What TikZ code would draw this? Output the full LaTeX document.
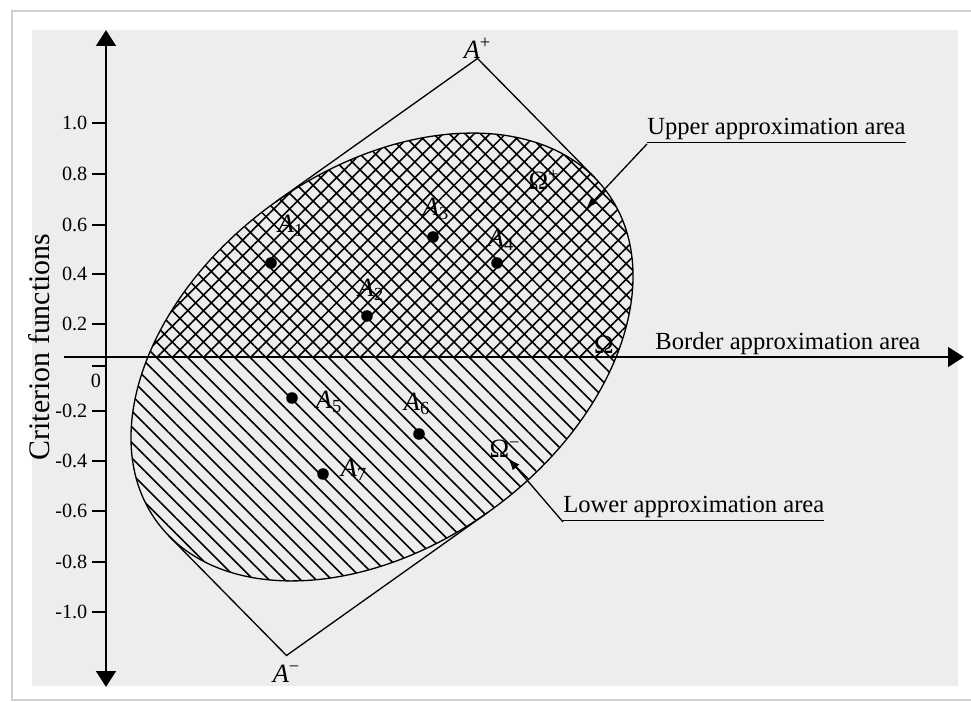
\documentclass[tikz,border=0pt]{standalone}
\usepackage{fontspec}
\setmainfont{Liberation Serif}
\usetikzlibrary{arrows.meta}
\usetikzlibrary{patterns.meta}
\usetikzlibrary{positioning}
\definecolor{panelgray}{HTML}{EDEDED}
\definecolor{framegray}{HTML}{CFCFCF}
\newcommand{\ovaltilt}{36.2}
\tikzstyle{axis}=[
  line width=1.7pt,
  >={Triangle[length=9pt,width=11pt]}
]
\tikzstyle{tickmark}=[line width=1.4pt]
\tikzstyle{rim}=[line width=0.75pt]
\tikzstyle{val}=[
  anchor=east,
  inner sep=2pt,
  font=\fontsize{11.5}{13}\selectfont
]
\tikzstyle{alt}=[
  circle,
  fill,
  inner sep=0pt,
  minimum size=6.6pt
]
\tikzstyle{alttext}=[
  inner sep=0pt,
  font=\fontsize{15}{17}\selectfont
]
\tikzstyle{areatext}=[
  inner sep=0pt,
  font=\fontsize{14}{16}\selectfont
]
\tikzstyle{lead}=[
  -{Latex[length=7pt,width=5pt]},
  line width=0.75pt
]
\tikzstyle{oval}=[rotate around={\ovaltilt:(382,357)}]

\begin{document}
\begin{tikzpicture}[x=0.02cm, y=-0.02cm]
  \useasboundingbox (0,0) rectangle (971,702);
  \draw[framegray, line width=1.2pt] (975,11) -- (12,11) -- (12,700) -- (975,700);
  \fill[panelgray] (32,30) rectangle (958,686);

  % tangent frame
  \coordinate (ap) at (477.5,58.5);
  \coordinate (am) at (286.5,655.5);
  \coordinate (t1) at (275.7,201.9);
  \coordinate (t2) at (595.2,178.1);
  \coordinate (t3) at (488.3,512.1);
  \coordinate (t4) at (168.8,535.9);
  \draw[rim] (t1) -- (ap) -- (t2);
  \draw[rim] (t4) -- (am) -- (t3);
  \node[alttext, above=0pt of ap] (aplus) {\textit{A}\textsuperscript{+}};
  \node[alttext, below=5pt of am] (aminus) {\textit{A}\textsuperscript{−}};

  % areas
  \begin{scope}
    \clip[oval] (382,357) ellipse [x radius=5.58cm, y radius=3.76cm];
    \fill[pattern={Hatch[angle=45, distance=6.3pt, line width=0.9pt]}] (100,357) rectangle (700,100);
    \fill[pattern={Lines[angle=-45, distance=6.3pt, line width=0.9pt]}] (100,357) rectangle (700,620);
  \end{scope}
  \draw[rim, oval] (382,357) ellipse [x radius=5.58cm, y radius=3.76cm];

  % axes
  \coordinate (ytop) at (106,30);
  \coordinate (ybot) at (106,687);
  \coordinate (xleft) at (64,357);
  \coordinate (xright) at (964,357);
  \draw[axis, <->] (ytop) -- (ybot);
  \draw[axis, ->] (xleft) -- (xright);

  \draw[tickmark] (92,123) -- (106,123) node[val, pos=0] (v10)  {1.0};
  \draw[tickmark] (92,174) -- (106,174) node[val, pos=0] (v08)  {0.8};
  \draw[tickmark] (92,225) -- (106,225) node[val, pos=0] (v06)  {0.6};
  \draw[tickmark] (92,274) -- (106,274) node[val, pos=0] (v04)  {0.4};
  \draw[tickmark] (92,324) -- (106,324) node[val, pos=0] (v02)  {0.2};
  \draw[tickmark] (92,366) -- (106,366);
  \draw[tickmark] (92,411) -- (106,411) node[val, pos=0] (vm02) {-0.2};
  \draw[tickmark] (92,461) -- (106,461) node[val, pos=0] (vm04) {-0.4};
  \draw[tickmark] (92,511) -- (106,511) node[val, pos=0] (vm06) {-0.6};
  \draw[tickmark] (92,562) -- (106,562) node[val, pos=0] (vm08) {-0.8};
  \draw[tickmark] (92,612) -- (106,612) node[val, pos=0] (vm10) {-1.0};
  \node[font=\fontsize{11.5}{13}\selectfont] (zero) at (96,381) {0};

  \node[rotate=90, font=\fontsize{17}{19}\selectfont] (ylabel) at (39,347) {Criterion functions};

  % alternatives
  \node[alt] (a1) at (271,263) {};
  \node[alt] (a2) at (367,316) {};
  \node[alt] (a3) at (433,237) {};
  \node[alt] (a4) at (497,263) {};
  \node[alt] (a5) at (292,398) {};
  \node[alt] (a6) at (419,434) {};
  \node[alt] (a7) at (323,474) {};
  \node[alttext] (l1) at (291,226) {\textit{A}\textsubscript{1}};
  \node[alttext] (l2) at (371,290) {\textit{A}\textsubscript{2}};
  \node[alttext] (l3) at (436,209) {\textit{A}\textsubscript{3}};
  \node[alttext] (l4) at (501,240) {\textit{A}\textsubscript{4}};
  \node[alttext] (l5) at (329,402) {\textit{A}\textsubscript{5}};
  \node[alttext] (l6) at (417,404) {\textit{A}\textsubscript{6}};
  \node[alttext] (l7) at (354,470) {\textit{A}\textsubscript{7}};

  \node[alttext] (oplus)  at (544,180) {Ω\textsuperscript{+}};
  \node[alttext] (ozero)  at (604,345) {Ω};
  \node[alttext] (ominus) at (505,449) {Ω\textsuperscript{−}};

  % area labels
  \node[areatext, anchor=south west] (upper)  at (647,144) {\underline{Upper approximation area}};
  \node[areatext, anchor=base west]  (border) at (655,350) {Border approximation area};
  \node[areatext, anchor=south west] (lower)  at (563,522) {\underline{Lower approximation area}};
  \coordinate (uptip) at (586,209);
  \coordinate (lowtip) at (508,458);
  \draw[lead] (upper.south west) -- (uptip);
  \draw[lead] (lower.south west) -- (lowtip);
\end{tikzpicture}
\end{document}
